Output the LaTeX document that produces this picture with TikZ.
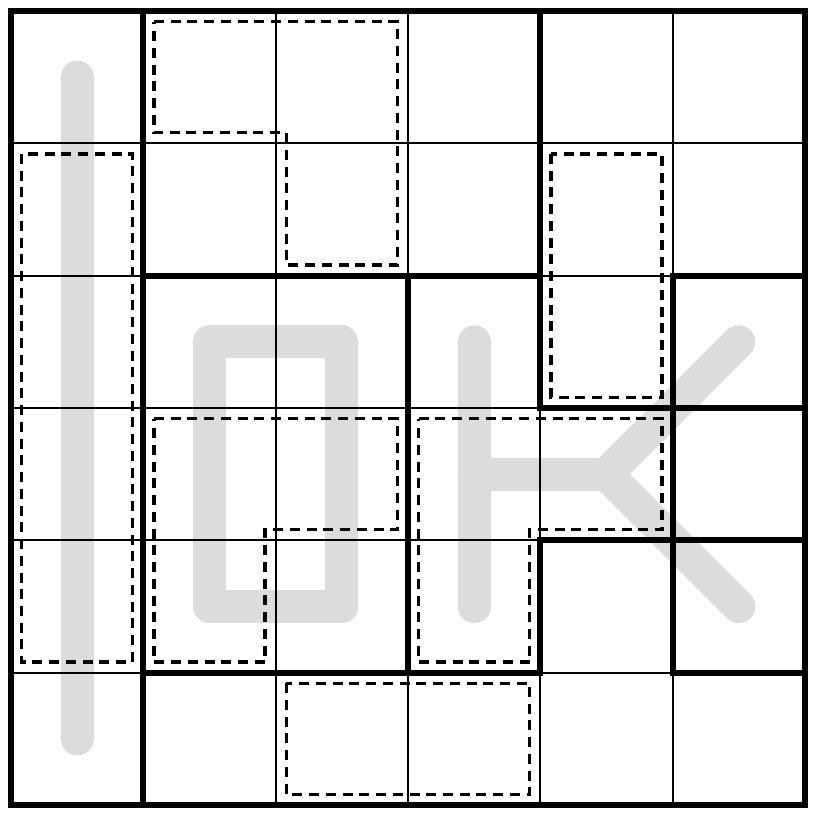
\documentclass[tikz,border=0pt]{standalone}
\definecolor{lettergray}{RGB}{220,220,220}

\begin{document}
\begin{tikzpicture}[x=2cm,y=-2cm]
\tikzset{
  gridline/.style={line width=0.9pt},
  regionline/.style={line width=2.7pt,line cap=rect,line join=miter},
  cageline/.style={line width=1.4pt,dash pattern=on 4.3pt off 2.9pt},
  letterline/.style={draw=lettergray,line width=0.5cm,line cap=round,line join=round}
}
\useasboundingbox (-0.0833,-0.0833) rectangle (6.0833,6.0833);
% letters
\draw[letterline] (0.5,0.5) -- (0.5,5.5);
\draw[letterline] (1.5,2.5) rectangle (2.5,4.5);
\draw[letterline] (3.5,2.5) -- (3.5,4.5);
\draw[letterline] (3.5,3.5) -- (4.5,3.5);
\draw[letterline] (5.5,2.5) -- (4.5,3.5) -- (5.5,4.5);
% thin grid
\draw[gridline] (1,0) -- (1,6);
\draw[gridline] (2,0) -- (2,6);
\draw[gridline] (3,0) -- (3,6);
\draw[gridline] (4,0) -- (4,6);
\draw[gridline] (5,0) -- (5,6);
\draw[gridline] (0,1) -- (6,1);
\draw[gridline] (0,2) -- (6,2);
\draw[gridline] (0,3) -- (6,3);
\draw[gridline] (0,4) -- (6,4);
\draw[gridline] (0,5) -- (6,5);
% regions
\draw[regionline] (0,0) rectangle (6,6);
\draw[regionline] (1,0) -- (1,6);
\draw[regionline] (4,0) -- (4,3) -- (6,3);
\draw[regionline] (1,2) -- (4,2);
\draw[regionline] (3,2) -- (3,5);
\draw[regionline] (1,5) -- (4,5) -- (4,4) -- (6,4);
\draw[regionline] (6,2) -- (5,2) -- (5,5) -- (6,5);
% cages
\draw[cageline] (1.08,0.08) -- (2.92,0.08) -- (2.92,1.92) -- (2.08,1.92) -- (2.08,0.92) -- (1.08,0.92) -- cycle;
\draw[cageline] (0.08,1.08) rectangle (0.92,4.92);
\draw[cageline] (4.08,1.08) rectangle (4.92,2.92);
\draw[cageline] (1.08,3.08) -- (2.92,3.08) -- (2.92,3.92) -- (1.92,3.92) -- (1.92,4.92) -- (1.08,4.92) -- cycle;
\draw[cageline] (3.08,3.08) -- (4.92,3.08) -- (4.92,3.92) -- (3.92,3.92) -- (3.92,4.92) -- (3.08,4.92) -- cycle;
\draw[cageline] (2.08,5.08) rectangle (3.92,5.92);
\end{tikzpicture}
\end{document}
